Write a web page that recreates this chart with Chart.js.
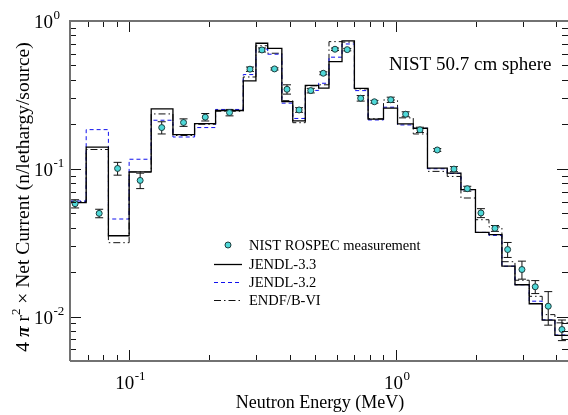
<!DOCTYPE html>
<html>
<head>
<meta charset="utf-8">
<script src="https://cdn.jsdelivr.net/npm/chart.js@4.4.1/dist/chart.umd.min.js"></script>
<style>
  html, body { margin:0; padding:0; background:#fff; }
  #wrap { width:568px; height:415px; }
</style>
</head>
<body>
<div id="wrap"><canvas id="spectrum" width="568" height="415"></canvas></div>
<script>
// Leakage spectrum from the NIST iron sphere: ROSPEC data vs. calculated group fluxes
(function(){
    const SERIF = '"Liberation Serif", "Times New Roman", serif';

    // energy group boundaries (MeV)
    const binEdges = [0.060, 0.069, 0.0836, 0.100, 0.121, 0.146, 0.176, 0.211, 0.268, 0.299,
        0.331, 0.374, 0.411, 0.458, 0.514, 0.562, 0.629, 0.700, 0.788, 0.900,
        1.016, 1.164, 1.316, 1.561, 1.757, 1.992, 2.238, 2.503, 2.802, 3.169,
        3.545, 3.957, 4.50];

    // calculated group values, one per group
    const jendl33 = [0.059, 0.140, 0.0352, 0.0954, 0.254, 0.170, 0.202, 0.248, 0.393, 0.707,
        0.652, 0.285, 0.211, 0.367, 0.351, 0.531, 0.733, 0.350, 0.217, 0.257,
        0.201, 0.188, 0.101, 0.0935, 0.0722, 0.0371, 0.0358, 0.0219, 0.0164, 0.0122,
        0.00944, 0.00745];
    const jendl32 = [0.0605, 0.184, 0.0457, 0.116, 0.213, 0.164, 0.190, 0.252, 0.434, 0.646,
        0.596, 0.278, 0.219, 0.339, 0.379, 0.569, 0.699, 0.338, 0.214, 0.261,
        0.198, 0.188, 0.100, 0.093, 0.0722, 0.0371, 0.0354, 0.0219, 0.0164, 0.0127,
        0.0095, 0.0075];
    const endfb6 = [0.060, 0.135, 0.0316, 0.095, 0.235, 0.168, 0.200, 0.245, 0.418, 0.680,
        0.605, 0.289, 0.205, 0.364, 0.370, 0.725, 0.720, 0.347, 0.218, 0.292,
        0.221, 0.172, 0.096, 0.0887, 0.0634, 0.0452, 0.0404, 0.0235, 0.0176, 0.0137,
        0.0103, 0.00906];

    // ROSPEC measurement
    const measEnergy = [0.0627, 0.0772, 0.0905, 0.110, 0.1325, 0.160, 0.193, 0.238, 0.284, 0.315,
        0.351, 0.391, 0.434, 0.480, 0.535, 0.592, 0.658, 0.739, 0.832, 0.958,
        1.090, 1.233, 1.432, 1.654, 1.856, 2.088, 2.357, 2.630, 2.976, 3.338,
        3.735, 4.204];
    const measValue = [0.058, 0.0499, 0.1005, 0.0834, 0.190, 0.2056, 0.2235, 0.240, 0.472, 0.637,
        0.474, 0.345, 0.250, 0.338, 0.443, 0.644, 0.640, 0.300, 0.284, 0.293,
        0.234, 0.1835, 0.134, 0.0995, 0.0733, 0.0502, 0.0395, 0.0284, 0.0208, 0.0159,
        0.01174, 0.00817];
    const measError = [0.0037, 0.0033, 0.010, 0.010, 0.018, 0.012, 0.013, 0.012, 0.016, 0.020,
        0.008, 0.025, 0.009, 0.012, 0.010, 0.012, 0.012, 0.013, 0.006, 0.012,
        0.009, 0.0075, 0.003, 0.0039, 0.0028, 0.0035, 0.0018, 0.0033, 0.0029, 0.0016,
        0.0030, 0.0013];

    // axis range and decade labels
    const xRange = [0.06, 4.43];
    const yRange = [0.005, 1];
    const xMajor = [0.1, 1];
    const xMajorExp = ['-1', '0'];
    const yMajor = [1, 0.1, 0.01];
    const yMajorExp = ['0', '-1', '-2'];

    const seriesNames = ['NIST ROSPEC measurement', 'JENDL-3.3', 'JENDL-3.2', 'ENDF/B-VI'];

    const palette = {
        marker: '#4fd8d8',
        markerEdge: '#1d3b3b',
        solid: '#000000',
        dashed: '#1010ee',
        dashDot: '#111111',
        frame: '#727272',
        tick: '#151515'
    };

    function steps(vals){
        const pts = vals.map((v, i) => ({ x: binEdges[i], y: v }));
        pts.push({ x: binEdges[vals.length], y: vals[vals.length - 1] });
        return pts;
    }

    function minorTicks(lo, hi){
        const out = [];
        for (let d = Math.floor(Math.log10(lo)); d <= Math.ceil(Math.log10(hi)); d++) {
            for (let m = 2; m <= 9; m++) {
                const v = m * Math.pow(10, d);
                if (v >= lo * 0.999 && v <= hi * 1.001) out.push(v);
            }
        }
        return out;
    }

    function drawPower(ctx, exp, x, baseline, align){
        ctx.font = '19px ' + SERIF;
        const w1 = ctx.measureText('10').width;
        ctx.font = '13px ' + SERIF;
        const w2 = ctx.measureText(exp).width;
        const x0 = align === 'center' ? x - (w1 + w2) / 2 : x;
        ctx.textAlign = 'left';
        ctx.textBaseline = 'alphabetic';
        ctx.font = '19px ' + SERIF;
        ctx.fillText('10', x0, baseline);
        ctx.font = '13px ' + SERIF;
        ctx.fillText(exp, x0 + w1 + 0.5, baseline - 9);
    }

    // error bars go under the markers of the measurement set
    const errorBars = {
        id: 'errorBars',
        beforeDatasetDraw(chart, args){
            if (args.index !== 0) { return; }
            const { ctx, scales: { x, y } } = chart;
            ctx.save();
            ctx.strokeStyle = '#111';
            ctx.lineWidth = 1;
            measEnergy.forEach((e, i) => {
                const px = x.getPixelForValue(e);
                const top = y.getPixelForValue(measValue[i] + measError[i]);
                const bot = y.getPixelForValue(measValue[i] - measError[i]);
                ctx.beginPath();
                ctx.moveTo(px, top); ctx.lineTo(px, bot);
                ctx.moveTo(px - 4, top); ctx.lineTo(px + 4, top);
                ctx.moveTo(px - 4, bot); ctx.lineTo(px + 4, bot);
                ctx.stroke();
            });
            ctx.restore();
        }
    };

    // inward ticks on all sides plus the frame
    const frame = {
        id: 'frame',
        afterDatasetsDraw(chart){
            const { ctx, chartArea: a, scales: { x, y } } = chart;
            ctx.save();
            ctx.strokeStyle = palette.tick;
            ctx.lineWidth = 1;
            ctx.beginPath();
            const xt = [[xMajor, 11], [minorTicks(xRange[0], xRange[1]), 6]];
            xt.forEach(([vals, len]) => vals.forEach(v => {
                const px = Math.round(x.getPixelForValue(v)) + 0.5;
                ctx.moveTo(px, a.bottom); ctx.lineTo(px, a.bottom - len);
                ctx.moveTo(px, a.top); ctx.lineTo(px, a.top + len);
            }));
            const yt = [[yMajor, 11], [minorTicks(yRange[0], yRange[1]), 6]];
            yt.forEach(([vals, len]) => vals.forEach(v => {
                const py = Math.round(y.getPixelForValue(v)) + 0.5;
                ctx.moveTo(a.left, py); ctx.lineTo(a.left + len, py);
                ctx.moveTo(a.right, py); ctx.lineTo(a.right - len, py);
            }));
            ctx.stroke();

            ctx.strokeStyle = palette.frame;
            ctx.lineWidth = 2;
            ctx.beginPath();
            ctx.moveTo(a.left, a.bottom); ctx.lineTo(a.left, a.top); ctx.lineTo(a.right, a.top);
            ctx.moveTo(a.left, a.bottom); ctx.lineTo(a.right, a.bottom);
            ctx.stroke();
            ctx.restore();
        },
        afterDraw(chart){
            const { ctx, chartArea: a, scales: { x, y } } = chart;
            ctx.save();
            ctx.fillStyle = '#000';

            // decade labels
            xMajor.forEach((v, i) => drawPower(ctx, xMajorExp[i], x.getPixelForValue(v) + 1, 389, 'center'));
            yMajor.forEach((v, i) => drawPower(ctx, yMajorExp[i], 34, y.getPixelForValue(v) + 7, 'left'));

            // axis titles
            ctx.font = '18px ' + SERIF;
            ctx.textAlign = 'center';
            ctx.textBaseline = 'alphabetic';
            ctx.fillText('Neutron Energy (MeV)', (a.left + a.right) / 2 + 1, 408);

            const parts = [
                ['4 ', '19.5px ' + SERIF, 0],
                ['\u03c0', 'italic bold 19.5px ' + SERIF, 0],
                [' r', '19.5px ' + SERIF, 0],
                ['2', '13px ' + SERIF, -9],
                [' \u00d7 Net Current (n/lethargy/source)', '19.5px ' + SERIF, 0]
            ];
            let total = 0;
            parts.forEach(p => { ctx.font = p[1]; total += ctx.measureText(p[0]).width; });
            ctx.translate(29, 197);
            ctx.rotate(-Math.PI / 2);
            ctx.textAlign = 'left';
            let cx = -total / 2;
            parts.forEach(p => {
                ctx.font = p[1];
                ctx.fillText(p[0], cx, p[2]);
                cx += ctx.measureText(p[0]).width;
            });
            ctx.setTransform(1, 0, 0, 1, 0, 0);

            // annotation
            ctx.font = '19px ' + SERIF;
            ctx.textAlign = 'left';
            ctx.fillText('NIST 50.7 cm sphere', 389, 70);

            // legend
            const lx0 = 214, lx1 = 242, tx = 249;
            const rows = [245, 264, 282, 300];
            ctx.font = '14.5px ' + SERIF;
            ctx.textBaseline = 'middle';
            seriesNames.forEach((name, i) => ctx.fillText(name, tx, rows[i] + 1));

            ctx.beginPath();
            ctx.arc(228, rows[0], 3, 0, Math.PI * 2);
            ctx.fillStyle = palette.marker;
            ctx.fill();
            ctx.lineWidth = 1;
            ctx.strokeStyle = palette.markerEdge;
            ctx.stroke();

            const styles = [
                [palette.solid, [], 1.3],
                [palette.dashed, [4, 3], 1],
                [palette.dashDot, [7, 3, 1.5, 3], 1]
            ];
            styles.forEach(([c, dash, w], i) => {
                ctx.beginPath();
                ctx.strokeStyle = c;
                ctx.lineWidth = w;
                ctx.setLineDash(dash);
                ctx.moveTo(lx0, rows[i + 1] + 0.5);
                ctx.lineTo(lx1, rows[i + 1] + 0.5);
                ctx.stroke();
            });
            ctx.restore();
        }
    };

    const histo = (label, vals, color, dash, width) => ({
        label,
        data: steps(vals),
        stepped: 'before',
        borderColor: color,
        borderWidth: width,
        borderDash: dash,
        pointRadius: 0,
        fill: false
    });

    new Chart(document.getElementById('spectrum'), {
        type: 'line',
        data: {
            datasets: [
                {
                    label: seriesNames[0],
                    data: measEnergy.map((e, i) => ({ x: e, y: measValue[i] })),
                    showLine: false,
                    pointRadius: 3,
                    pointBackgroundColor: palette.marker,
                    pointBorderColor: palette.markerEdge,
                    pointBorderWidth: 1
                },
                histo(seriesNames[1], jendl33, palette.solid, [], 1.3),
                histo(seriesNames[2], jendl32, palette.dashed, [4, 3], 1),
                histo(seriesNames[3], endfb6, palette.dashDot, [7, 3, 1.5, 3], 1)
            ]
        },
        options: {
            responsive: false,
            animation: false,
            devicePixelRatio: 1,
            layout: { autoPadding: false, padding: { top: 21, right: 0, bottom: 0, left: 0 } },
            plugins: { legend: { display: false }, tooltip: { enabled: false } },
            scales: {
                x: {
                    type: 'logarithmic',
                    min: xRange[0], max: xRange[1],
                    grid: { display: false }, border: { display: false },
                    ticks: { display: false },
                    afterFit(scale){ scale.height = 54; }
                },
                y: {
                    type: 'logarithmic',
                    min: yRange[0], max: yRange[1],
                    grid: { display: false }, border: { display: false },
                    ticks: { display: false },
                    afterFit(scale){ scale.width = 70; }
                }
            }
        },
        plugins: [errorBars, frame]
    });
})();
</script>
</body>
</html>
